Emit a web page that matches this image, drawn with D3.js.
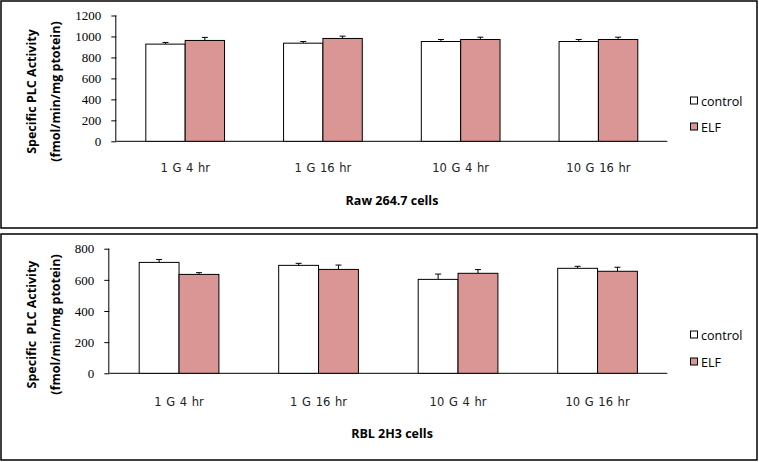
<!DOCTYPE html>
<html><head><meta charset="utf-8">
<script src="https://cdn.jsdelivr.net/npm/d3@7"></script>
<style>body{margin:0;background:#fff}svg{display:block}</style>
</head><body>
<svg id="c" width="759" height="462"></svg>
<script>
const categories = ["1 G 4 hr", "1 G 16 hr", "10 G 4 hr", "10 G 16 hr"];
const seriesNames = ["control", "ELF"];
const seriesColors = ["#ffffff", "#d99694"];

// Raw 264.7 cells
const rawControl = [927, 936, 952, 952];
const rawControlErr = [16, 16, 19, 19];
const rawELF = [962, 981, 971, 971];
const rawELFErr = [29, 22, 22, 22];
const rawTicks = [0, 200, 400, 600, 800, 1000, 1200];

// RBL 2H3 cells
const rblControl = [712, 693, 603, 674];
const rblControlErr = [19, 13, 34, 13];
const rblELF = [635, 667, 642, 655];
const rblELFErr = [11, 28, 24, 26];
const rblTicks = [0, 200, 400, 600, 800];

const panels = [
  {title: "Raw 264.7 cells", ytitle: "Specific PLC Activity", ymax: 1200, ticks: rawTicks,
   vals: [rawControl, rawELF], errs: [rawControlErr, rawELFErr],
   box: [1, 1, 756, 227], x0: 116.3, x1: 667.3, yTop: 15.5, yBot: 141.3,
   xlabY: 172, titleY: 205, legY: [101, 127], ytY: 91.5},
  {title: "RBL 2H3 cells", ytitle: "Specific  PLC Activity", ymax: 800, ticks: rblTicks,
   vals: [rblControl, rblELF], errs: [rblControlErr, rblELFErr],
   box: [1, 234, 756, 226], x0: 109.3, x1: 667.3, yTop: 248.7, yBot: 373.3,
   xlabY: 406, titleY: 437.5, legY: [335, 362], ytY: 324.5}
];

const svg = d3.select("#c");

panels.forEach(p => {
  const g = svg.append("g");
  g.append("rect").attr("x", p.box[0]).attr("y", p.box[1]).attr("width", p.box[2]).attr("height", p.box[3])
    .attr("fill", "none").attr("stroke", "#000").attr("stroke-width", 1.5);

  const x = d3.scaleBand().domain(categories).range([p.x0, p.x1]).padding(0);
  const xs = d3.scaleBand().domain(seriesNames).range([0, x.bandwidth()]).paddingInner(0).paddingOuter(0.75);
  const y = d3.scaleLinear().domain([0, p.ymax]).range([p.yBot, p.yTop]);

  // y axis
  const ya = g.append("g").attr("transform", `translate(${p.x0},0)`)
    .call(d3.axisLeft(y).tickValues(p.ticks).tickFormat(d3.format("d")).tickSize(5).tickPadding(10));
  ya.attr("font-family", null);
  ya.select(".domain").attr("stroke", "#000").attr("d", `M-0.5,${p.yTop}V${p.yBot}`);
  ya.selectAll(".tick line").attr("stroke", "#000");
  ya.selectAll(".tick text").style("font-family", "'Liberation Serif', 'DejaVu Serif', serif")
    .style("font-size", "13px").attr("fill", "#000");

  // x axis line
  g.append("line").attr("x1", p.x0).attr("x2", p.x1).attr("y1", p.yBot).attr("y2", p.yBot)
    .attr("stroke", "#000").attr("stroke-width", 1);

  // bars
  seriesNames.forEach((s, si) => {
    categories.forEach((c, ci) => {
      const v = p.vals[si][ci], e = p.errs[si][ci];
      const bx = x(c) + xs(s), bw = xs.bandwidth();
      const cx = bx + bw / 2;
      g.append("line").attr("x1", cx).attr("x2", cx).attr("y1", y(v)).attr("y2", y(v + e))
        .attr("stroke", "#000").attr("stroke-width", 1);
      g.append("line").attr("x1", cx - 3).attr("x2", cx + 3).attr("y1", y(v + e)).attr("y2", y(v + e))
        .attr("stroke", "#000").attr("stroke-width", 1);
      g.append("rect").attr("x", bx).attr("y", y(v)).attr("width", bw).attr("height", p.yBot - y(v))
        .attr("fill", seriesColors[si]).attr("stroke", "#000").attr("stroke-width", 1);
    });
  });

  // x labels
  categories.forEach(c => {
    g.append("text").attr("x", x(c) + x.bandwidth() / 2).attr("y", p.xlabY).attr("text-anchor", "middle")
      .attr("font-family", "DejaVu Sans, sans-serif").attr("font-size", 11.5).attr("fill", "#222")
      .style("word-spacing", "1px").text(c);
  });

  // title
  g.append("text").attr("x", 392).attr("y", p.titleY).attr("text-anchor", "middle")
    .attr("font-family", "Open Sans, sans-serif").attr("font-weight", "bold").attr("font-size", 12.5)
    .attr("fill", "#000").text(p.title);

  // y title
  const yt = g.append("text").attr("transform", `translate(36,${p.ytY}) rotate(-90)`).attr("text-anchor", "middle")
    .attr("font-family", "Open Sans, sans-serif").attr("font-weight", "bold").attr("font-size", 12.5)
    .attr("fill", "#000");
  yt.append("tspan").attr("x", 0).attr("y", 0).style("white-space", "pre").text(p.ytitle);
  yt.append("tspan").attr("x", 0).attr("y", 23.5).text("(fmol/min/mg ptotein)");

  // legend
  seriesNames.forEach((s, si) => {
    const ly = p.legY[si];
    g.append("rect").attr("x", 690.5).attr("y", ly - 4).attr("width", 7).attr("height", 7)
      .attr("fill", seriesColors[si]).attr("stroke", "#000").attr("stroke-width", 1);
    g.append("text").attr("x", 701).attr("y", ly + 4.5).attr("font-family", "Open Sans, sans-serif")
      .attr("font-size", 12.5).attr("fill", "#000").text(s);
  });
});
</script>
</body></html>
